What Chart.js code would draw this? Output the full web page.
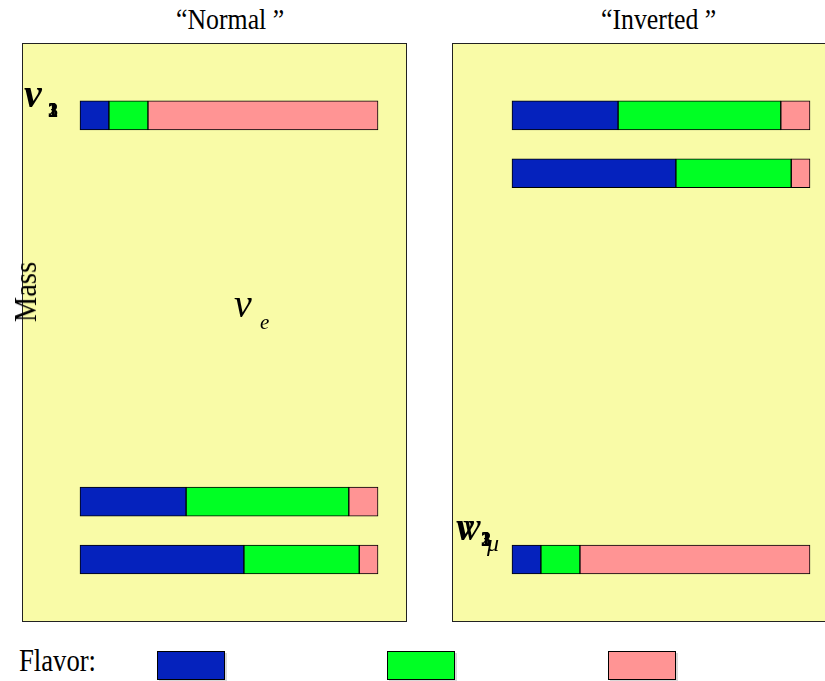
<!DOCTYPE html>
<html>
<head>
<meta charset="utf-8">
<script src="https://cdn.jsdelivr.net/npm/chart.js@4"></script>
<style>
  body { margin: 0; width: 825px; height: 681px; overflow: hidden; background: #fff; position: relative; font-family: "Liberation Serif", "DejaVu Serif", serif; }
  .box { position: absolute; }
  .title { position: absolute; top: 2px; font-size: 30px; transform: scaleX(0.86); transform-origin: 0 0; white-space: nowrap; }
  .swatch { position: absolute; top: 651px; width: 66px; height: 27px; border: 1px solid #000; box-shadow: 2px 2px 0 rgba(0,0,0,0.15); }
</style>
</head>
<body>
<div class="title" style="left:176px;">“Normal ”</div>
<div class="title" style="left:601px;">“Inverted ”</div>

<div class="box" style="left:22px; top:43px; width:385px; height:579px;"><canvas id="normalChart"></canvas></div>
<div class="box" style="left:452px; top:43px; width:390px; height:579px;"><canvas id="invertedChart"></canvas></div>

<div style="position:absolute; left:-10px; top:275px; font-size:31px; transform:rotate(-90deg) scaleX(0.92); transform-origin:35px 17px; width:70px; text-align:center; white-space:nowrap;">Mass</div>

<div style="position:absolute; left:19px; top:643px; font-size:31px; transform:scaleX(0.86); transform-origin:0 0; white-space:nowrap;">Flavor:</div>
<div class="swatch" style="left:157px; background:#0522BD;"></div>
<div class="swatch" style="left:387px; background:#00FF24;"></div>
<div class="swatch" style="left:608px; background:#FF9494;"></div>

<script>
const flavors = ["νe", "νμ", "ντ"];
const flavorColors = ["#0522BD", "#00FF24", "#FF9494"];
const states = ["ν1", "ν2", "ν3"];

// flavour content of each mass state (e, mu, tau)
const eShare = [0.55, 0.356, 0.097];
const muShare = [0.387, 0.546, 0.131];
const tauShare = [0.063, 0.098, 0.772];

// mass level of each state (arbitrary units, 0 bottom .. 100 top)
const massNormal = [10.8, 20.8, 87.5];
const massInverted = [77.5, 87.5, 10.8];

const shares = [eShare, muShare, tauShare];

const panelPlugin = {
    id: "panel",
    beforeDraw(chart) {
        const { ctx, chartArea: a } = chart;
        ctx.save();
        ctx.fillStyle = "#F9FBA7";
        ctx.fillRect(a.left, a.top, a.right - a.left, a.bottom - a.top);
        ctx.strokeStyle = "#222";
        ctx.lineWidth = 1;
        ctx.strokeRect(a.left + 0.5, a.top + 0.5, a.right - a.left - 1, a.bottom - a.top - 1);
        ctx.restore();
    },
};

const labelPlugin = (draw) => ({
    id: "nuLabels",
    afterDraw(chart) {
        const ctx = chart.ctx;
        ctx.save();
        ctx.fillStyle = "#000";
        draw(ctx);
        ctx.restore();
    },
});

const makeChart = (id, masses, xMin, xMax, extra) => {
    const datasets = flavors.map((f, i) => ({
        label: f,
        data: states.map((s, j) => ({ x: shares[i][j], y: masses[j] })),
        backgroundColor: flavorColors[i],
        borderColor: "#000",
        borderWidth: 1,
        borderSkipped: false,
        barThickness: 29,
    }));

    new Chart(document.getElementById(id), {
        type: "bar",
        data: { datasets },
        options: {
            indexAxis: "y",
            responsive: true,
            maintainAspectRatio: false,
            animation: false,
            layout: { padding: 0 },
            plugins: {
                legend: { display: false },
                tooltip: { enabled: false },
            },
            scales: {
                x: { type: "linear", stacked: true, min: xMin, max: xMax, display: false },
                y: { type: "linear", stacked: true, min: 0, max: 100, offset: false, display: false },
            },
        },
        plugins: [panelPlugin, labelPlugin(extra)],
    });
};

makeChart("normalChart", massNormal, -0.1946, 1.0973, (ctx) => {
    ctx.font = "bold italic 40px 'Liberation Serif'";
    ctx.fillText("ν", 2, 64);
    ctx.font = "bold 20px 'Liberation Serif'";
    ["1", "2", "3"].forEach((n) => ctx.fillText(n, 26, 74));
    ctx.font = "italic 40px 'Liberation Serif'";
    ctx.fillText("ν", 212, 274);
    ctx.font = "italic 21px 'Liberation Serif'";
    ctx.fillText("e", 238, 286);
});

makeChart("invertedChart", massInverted, -0.2013, 1.1074, (ctx) => {
    ctx.font = "bold italic 40px 'Liberation Serif'";
    ctx.fillText("ν", 4, 497);
    ctx.font = "italic 40px 'Liberation Serif'";
    ctx.fillText("ν", 11, 497);
    ctx.font = "bold 20px 'Liberation Serif'";
    ["1", "2", "3"].forEach((n) => ctx.fillText(n, 29, 503));
    ctx.font = "italic 24px 'Liberation Serif'";
    ctx.fillText("μ", 35, 508);
});
</script>
</body>
</html>
